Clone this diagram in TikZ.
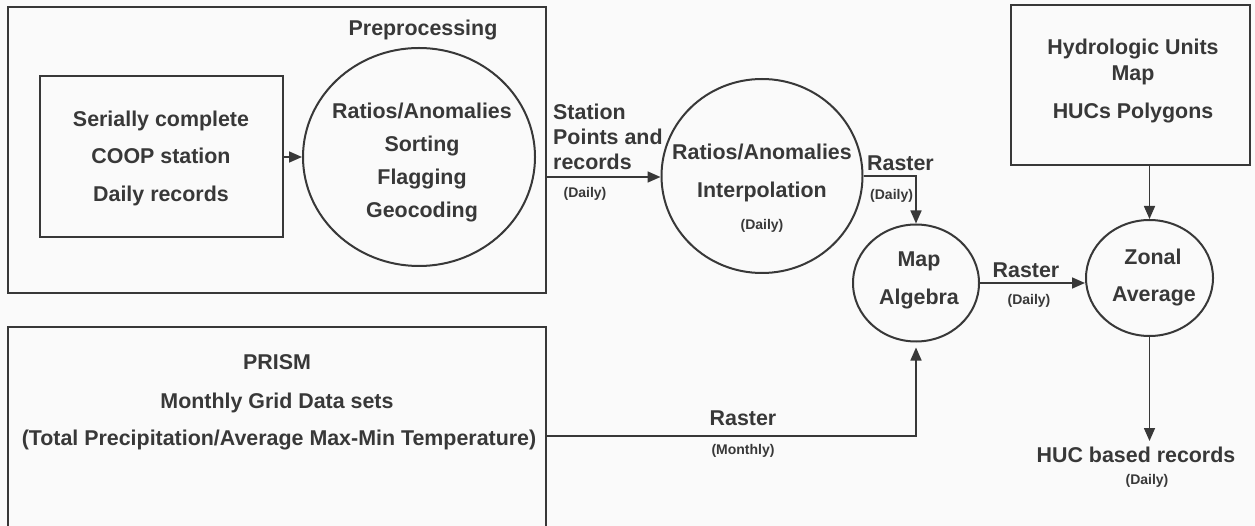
\documentclass[tikz,border=0pt]{standalone}
\usepackage{fontspec}
\setmainfont{Liberation Sans}
\usetikzlibrary{shapes.geometric,arrows.meta}
\definecolor{ink}{HTML}{383838}
\definecolor{paper}{HTML}{FAFAFA}
\begin{document}
\begin{tikzpicture}[x=1pt,y=-1pt,
  box/.style={draw=ink, line width=2pt, rectangle, inner sep=0pt},
  proc/.style={draw=ink, line width=2pt, ellipse, inner sep=0pt},
  lbl/.style={text=ink, font=\fontsize{21.4}{24}\selectfont\bfseries, inner sep=0pt, anchor=base},
  sml/.style={text=ink, font=\fontsize{14}{16}\selectfont\bfseries, inner sep=0pt, anchor=base},
  flow/.style={draw=ink, line width=1.6pt, -{Triangle[length=13pt,width=11pt]}},
]
\fill[paper] (0,0) rectangle (1255,526);
\useasboundingbox (0,0) rectangle (1255,526);

% shapes
\node[box, minimum width=538pt, minimum height=286pt] (pre) at (277,150) {};
\node[box, minimum width=243pt, minimum height=161pt] (inbox) at (161.5,157) {};
\node[proc, minimum width=232pt, minimum height=218pt] (c1) at (419,157) {};
\node[proc, minimum width=201pt, minimum height=194pt] (c2) at (762,176) {};
\node[proc, minimum width=126pt, minimum height=117pt] (map) at (916,283) {};
\node[proc, minimum width=127pt, minimum height=116pt] (zon) at (1149.5,278) {};
\node[box, minimum width=239pt, minimum height=160pt] (hyd) at (1130.5,85) {};
\node[box, minimum width=538pt, minimum height=240pt] (prism) at (277,447) {};

% texts
\node[lbl] (tpre) at (423,35.5) {Preprocessing};
\node[lbl] (t1) at (161,127) {Serially complete};
\node[lbl] (t2) at (161,164) {COOP station};
\node[lbl] (t3) at (161,202) {Daily records};
\node[lbl] (t4) at (422,119) {Ratios/Anomalies};
\node[lbl] (t5) at (422,152) {Sorting};
\node[lbl] (t6) at (422,185) {Flagging};
\node[lbl] (t7) at (422,218) {Geocoding};
\node[lbl, anchor=base west] (t8) at (553,120) {Station};
\node[lbl, anchor=base west] (t9) at (553,145) {Points and};
\node[lbl, anchor=base west] (t10) at (553,170) {records};
\node[sml] (t11) at (585,198) {(Daily)};
\node[lbl] (t12) at (762,160) {Ratios/Anomalies};
\node[lbl] (t13) at (762,198) {Interpolation};
\node[sml] (t14) at (762,230) {(Daily)};
\node[lbl, anchor=base west] (t15) at (867,171) {Raster};
\node[sml, anchor=base west] (t16) at (870,200) {(Daily)};
\node[lbl] (t17) at (919,267) {Map};
\node[lbl] (t18) at (919,305) {Algebra};
\node[lbl] (t19) at (1026,278) {Raster};
\node[sml] (t20) at (1029,305) {(Daily)};
\node[lbl] (t21) at (1153,265) {Zonal};
\node[lbl] (t22) at (1154,302) {Average};
\node[lbl] (t23) at (1133,55) {Hydrologic Units};
\node[lbl] (t24) at (1133,81) {Map};
\node[lbl] (t25) at (1133,119) {HUCs Polygons};
\node[lbl] (huc) at (1136,462) {HUC based records};
\node[sml] (t26) at (1147,484) {(Daily)};
\node[lbl] (t27) at (277,370) {PRISM};
\node[lbl] (t28) at (277,408) {Monthly Grid Data sets};
\node[lbl] (t29) at (279,445) {(Total Precipitation/Average Max-Min Temperature)};
\node[lbl] (t30) at (743,425) {Raster};
\node[sml] (t31) at (743,454) {(Monthly)};

% connectors
\coordinate (prout) at (546,436);
\coordinate (hucin) at (1149.5,441);
\draw[flow] (inbox.east) -- (inbox.east -| c1.west);
\draw[flow] (pre.east |- 0,177) -- (c2.west |- 0,177);
\draw[flow] (c2.east) -- (c2.east -| map.north) -- (map.north);
\draw[flow] (map.east) -- (map.east -| zon.west);
\draw[flow] (zon.north |- hyd.south) -- (zon.north);
\draw[flow] (zon.south) -- (hucin);
\draw[flow, shorten >=5pt] (prout) -- (prout -| map.south) -- (map.south);
\end{tikzpicture}
\end{document}
